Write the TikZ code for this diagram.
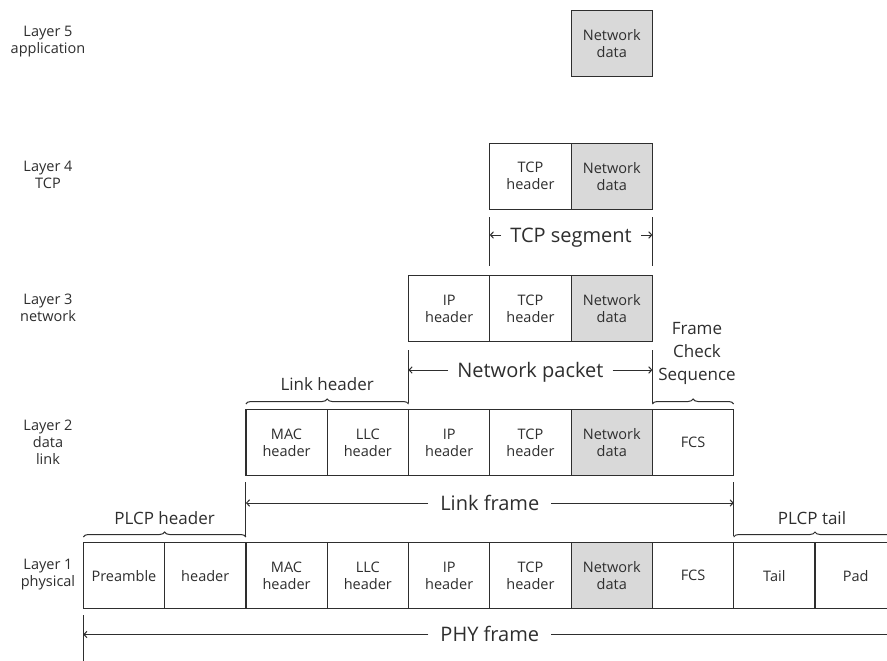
\documentclass[tikz,border=0pt]{standalone}
\usepackage{fontspec}
\setmainfont{Open Sans}
\usetikzlibrary{arrows.meta,decorations.pathreplacing}
\definecolor{ink}{HTML}{2E2E2E}
\definecolor{datafill}{HTML}{D9D9D9}
\tikzset{
  cell/.style={draw=ink, line width=1.2pt, minimum width=81.3pt, minimum height=66pt,
    inner sep=0pt, align=center, text=ink, font=\fontsize{14.5}{17}\selectfont},
  datacell/.style={cell, fill=datafill},
  layerlbl/.style={align=center, text=ink, font=\fontsize{14.5}{17}\selectfont},
  span/.style={text=ink, font=\fontsize{20}{24}\selectfont, inner xsep=9pt, inner ysep=0pt,
    text height=14.3pt, text depth=0pt},
  bracelbl/.style={align=center, text=ink, font=\fontsize{17}{23}\selectfont},
  tickline/.style={draw=ink, line width=1pt},
  dim/.style={draw=ink, line width=1pt, -{Straight Barb[length=3pt,width=6.5pt]}},
  brc/.style={draw=ink, line width=1pt, decorate, decoration={brace, amplitude=5pt}},
}
\begin{document}
\begin{tikzpicture}[x=1pt,y=-1pt]
\clip (0,0) rectangle (887,661);
\fill[white] (0,0) rectangle (887,661);

% layer names
\node[layerlbl] (n5) at (48,42) {Layer 5\\application};
\node[layerlbl] (n4) at (48,175) {Layer 4\\TCP};
\node[layerlbl] (n3) at (48,308) {Layer 3\\network};
\node[layerlbl] (n2) at (48,442) {Layer 2\\data\\link};
\node[layerlbl] (n1) at (48,575) {Layer 1\\physical};

% layer 5
\node[datacell] (a6) at (611.75,43.7) {Network\\data};

% layer 4
\node[cell]     (b5) at (530.45,176.3) {TCP\\header};
\node[datacell] (b6) at (611.75,176.3) {Network\\data};

% layer 3
\node[cell]     (c4) at (449.15,308.7) {IP\\header};
\node[cell]     (c5) at (530.45,308.7) {TCP\\header};
\node[datacell] (c6) at (611.75,308.7) {Network\\data};

% layer 2
\node[cell]     (d2) at (286.55,442.5) {MAC\\header};
\node[cell]     (d3) at (367.85,442.5) {LLC\\header};
\node[cell]     (d4) at (449.15,442.5) {IP\\header};
\node[cell]     (d5) at (530.45,442.5) {TCP\\header};
\node[datacell] (d6) at (611.75,442.5) {Network\\data};
\node[cell]     (d7) at (693.05,442.5) {FCS};

% layer 1
\node[cell]     (e0) at (123.95,575.7) {Preamble};
\node[cell]     (e1) at (205.25,575.7) {header};
\node[cell]     (e2) at (286.55,575.7) {MAC\\header};
\node[cell]     (e3) at (367.85,575.7) {LLC\\header};
\node[cell]     (e4) at (449.15,575.7) {IP\\header};
\node[cell]     (e5) at (530.45,575.7) {TCP\\header};
\node[datacell] (e6) at (611.75,575.7) {Network\\data};
\node[cell]     (e7) at (693.05,575.7) {FCS};
\node[cell]     (e8) at (774.35,575.7) {Tail};
\node[cell]     (e9) at (855.65,575.7) {Pad};

% TCP segment span
\coordinate (sA1) at (489.8,217);  \coordinate (sA2) at (489.8,266);
\coordinate (sB1) at (652.4,217);  \coordinate (sB2) at (652.4,266);
\draw[tickline] (sA1) -- (sA2);
\draw[tickline] (sB1) -- (sB2);
\node[span] (tcpseg) at (571.1,235) {TCP segment};
\draw[dim] (tcpseg.west) -- (tcpseg.west -| sA1);
\draw[dim] (tcpseg.east) -- (tcpseg.east -| sB1);

% Network packet span
\coordinate (pA1) at (408.5,350);  \coordinate (pA2) at (408.5,403);
\coordinate (pB1) at (652.4,350);  \coordinate (pB2) at (652.4,403);
\draw[tickline] (pA1) -- (pA2);
\draw[tickline] (pB1) -- (pB2);
\node[span] (netpkt) at (530.4,370) {Network packet};
\draw[dim] (netpkt.west) -- (netpkt.west -| pA1);
\draw[dim] (netpkt.east) -- (netpkt.east -| pB1);

% Link frame span
\coordinate (fA1) at (245.9,482);  \coordinate (fA2) at (245.9,536);
\coordinate (fB1) at (733.7,482);  \coordinate (fB2) at (733.7,536);
\draw[tickline] (fA1) -- (fA2);
\draw[tickline] (fB1) -- (fB2);
\node[span, inner xsep=12pt] (lnkfr) at (489.8,503) {Link frame};
\draw[dim] (lnkfr.west) -- (lnkfr.west -| fA1);
\draw[dim] (lnkfr.east) -- (lnkfr.east -| fB1);

% PHY frame span
\coordinate (hA1) at (83.3,615);  \coordinate (hA2) at (83.3,670);
\coordinate (hB1) at (896.3,615); \coordinate (hB2) at (896.3,670);
\draw[tickline] (hA1) -- (hA2);
\draw[tickline] (hB1) -- (hB2);
\node[span, inner xsep=12pt] (phyfr) at (489.8,634.5) {PHY frame};
\draw[dim] (phyfr.west) -- (phyfr.west -| hA1);
\draw[dim] (phyfr.east) -- (phyfr.east -| hB1);

% braces over the header and trailer groups
\coordinate (lhA) at (245.9,404); \coordinate (lhB) at (408.5,404);
\draw[brc] (lhA) -- (lhB);
\node[bracelbl, anchor=base] (lhlbl) at (327.2,390) {Link header};

\coordinate (fcA) at (652.4,404); \coordinate (fcB) at (733.7,404);
\draw[brc] (fcA) -- (fcB);
\node[bracelbl] (fclbl) at (697,353) {Frame\\Check\\Sequence};

\coordinate (phA) at (83.3,537); \coordinate (phB) at (245.9,537);
\draw[brc] (phA) -- (phB);
\node[bracelbl, anchor=base] (phlbl) at (164.6,524) {PLCP header};

\coordinate (ptA) at (733.7,537); \coordinate (ptB) at (896.3,537);
\draw[brc] (ptA) -- (ptB);
\node[bracelbl, anchor=base] (ptlbl) at (812,524) {PLCP tail};
\end{tikzpicture}
\end{document}
